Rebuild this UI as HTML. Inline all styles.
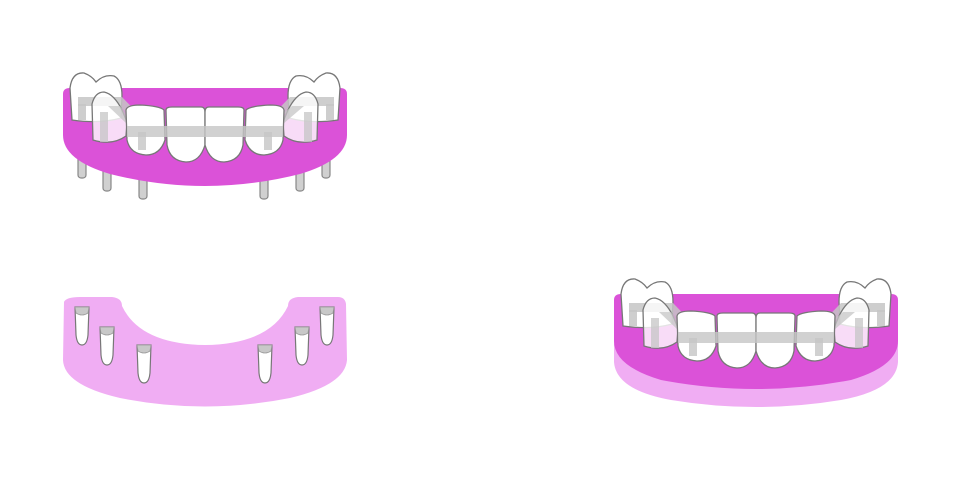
<!DOCTYPE html>
<html><head><meta charset="utf-8"><style>html,body{margin:0;padding:0;background:#fff}svg{display:block}</style></head>
<body>
<svg width="960" height="480" viewBox="0 0 960 480" xmlns="http://www.w3.org/2000/svg">
<defs>
<g id="teeth">
  <g fill="#fff" stroke="#777" stroke-width="1.3">
    <path d="M72,120 L70,88 Q72,72 84,73 Q92,76 96,82 Q104,74 114,76 Q122,80 122,96 L121,118 Q100,124 72,120 Z"/>
    <path d="M338,120 L340,88 Q338,72 326,73 Q318,76 314,82 Q306,74 296,76 Q288,80 288,96 L289,118 Q310,124 338,120 Z"/>
  </g>
  <g fill="#c6c6c6" fill-opacity="0.85">
    <path d="M78,97 L122,97 L150,126 L262,126 L290,97 L334,97 L334,106 L292,106 L264,137 L148,137 L120,106 L78,106 Z"/>
    <rect x="78" y="104" width="8" height="16"/><rect x="326" y="104" width="8" height="16"/>
  </g>
  <g fill="#fff" fill-opacity="0.8" stroke="#777" stroke-width="1.3">
    <path d="M93,140 L92,104 Q95,92 104,92 Q114,94 122,110 L127,122 L126,136 Q112,146 93,140 Z"/>
    <path d="M317,140 L318,104 Q315,92 306,92 Q296,94 288,110 L283,122 L284,136 Q298,146 317,140 Z"/>
  </g>
  <g fill="#c6c6c6" fill-opacity="0.75">
    <rect x="100" y="112" width="8" height="30"/><rect x="304" y="112" width="8" height="30"/>
    <path d="M108,106 L120,106 L127,114 L127,124 Z"/><path d="M304,106 L292,106 L283,114 L283,124 Z"/>
  </g>
  <g fill="#fff" stroke="#777" stroke-width="1.3">
    <path d="M126,110 Q127,105 140,105 Q160,106 164,110 L165,140 Q160,155 146,155 Q130,154 127,140 Z"/>
    <path d="M284,110 Q283,105 270,105 Q250,106 246,110 L245,140 Q250,155 264,155 Q280,154 283,140 Z"/>
    <path d="M166,110 Q166,107 172,107 L201,107 Q205,107 205,112 L205,145 Q200,162 186,162 Q170,161 167,145 Z"/>
    <path d="M244,110 Q244,107 238,107 L209,107 Q205,107 205,112 L205,145 Q210,162 224,162 Q240,161 243,145 Z"/>
  </g>
  <g fill="#c6c6c6" fill-opacity="0.8">
    <path d="M127,126 L283,126 L283,137 L127,137 Z"/>
    <rect x="138" y="132" width="8" height="18"/><rect x="264" y="132" width="8" height="18"/>
  </g>
</g>
<g id="post">
  <path d="M-7,0 L7,0 L6,28 Q5,38 0,38 Q-5,38 -6,28 Z" fill="#fff" stroke="#777" stroke-width="1.2"/>
  <path d="M-7,0 L7,0 L6,6 Q0,10 -6,6 Z" fill="#c8c8c8" stroke="#999" stroke-width="0.8"/>
</g>
</defs>

<g fill="#d0d0d0" stroke="#888" stroke-width="1.2">
  <rect x="78" y="148" width="8" height="30" rx="3"/>
  <rect x="103" y="160" width="8" height="31" rx="3"/>
  <rect x="139" y="168" width="8" height="31" rx="3"/>
  <rect x="260" y="168" width="8" height="31" rx="3"/>
  <rect x="296" y="160" width="8" height="31" rx="3"/>
  <rect x="322" y="148" width="8" height="30" rx="3"/>
</g>
<path d="M63,94 Q63,88 70,88 L340,88 Q347,88 347,94 L347,135 Q347,160 300,174 Q205,198 110,174 Q63,160 63,135 Z" fill="#db52d8"/>
<use href="#teeth"/>

<path d="M64,302 Q66,297 80,297 L112,297 Q122,298 122,306 Q140,344 205,345 Q270,344 288,306 Q288,298 298,297 L338,297 Q345,297 346,304 L347,360 Q345,385 290,398 Q205,415 120,398 Q64,385 63,360 Z" fill="#f0adf3"/>
<use href="#post" x="82" y="307"/>
<use href="#post" x="107" y="327"/>
<use href="#post" x="144" y="345"/>
<use href="#post" x="265" y="345"/>
<use href="#post" x="302" y="327"/>
<use href="#post" x="327" y="307"/>

<path d="M614,330 L898,330 L898,362 Q896,390 841,400 Q756,414 671,400 Q616,390 614,362 Z" fill="#f0adf3"/>
<g transform="translate(551,206)">
<path d="M63,94 Q63,88 70,88 L340,88 Q347,88 347,94 L347,135 Q347,160 300,174 Q205,192 110,174 Q63,160 63,135 Z" fill="#db52d8"/>
<use href="#teeth"/>
</g>
</svg>
</body></html>
